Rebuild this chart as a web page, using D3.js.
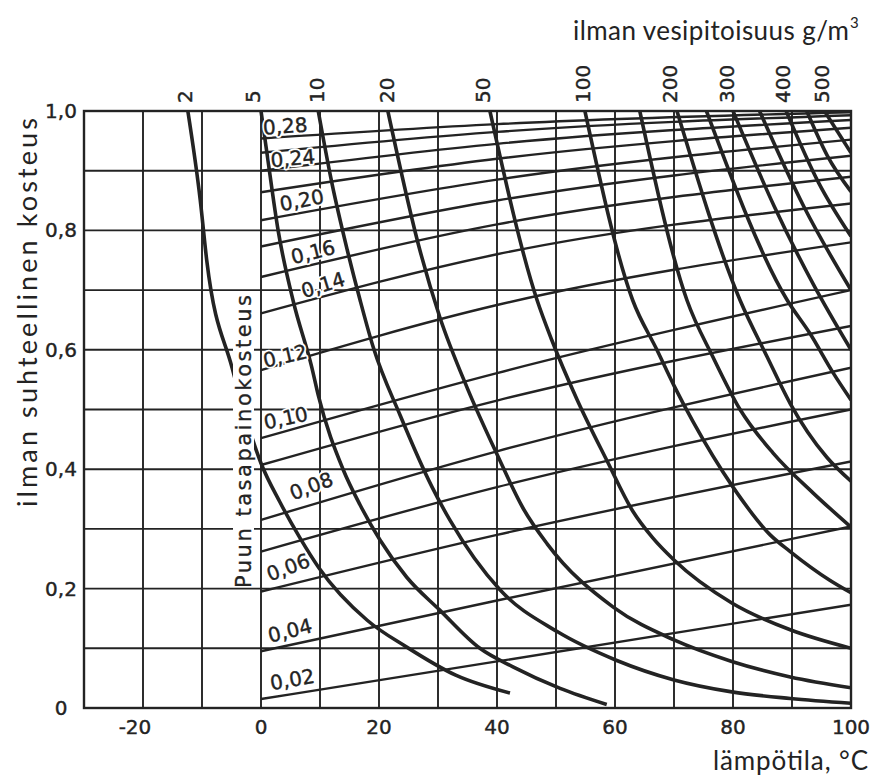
<!DOCTYPE html>
<html><head><meta charset="utf-8">
<script src="https://cdn.jsdelivr.net/npm/d3@7"></script>
<style>
html,body{margin:0;padding:0;background:#fff;}
svg{display:block;}
</style></head>
<body>
<svg id="chart" width="876" height="781"></svg>
<script>
// ---------------- data ----------------
// axis ticks
const xTickValues = [-20, 0, 20, 40, 60, 80, 100];
const xTickLabels = ["-20", "0", "20", "40", "60", "80", "100"];
const yTickValues = [0, 0.2, 0.4, 0.6, 0.8, 1.0];
const yTickLabels = ["0", "0,2", "0,4", "0,6", "0,8", "1,0"];
const xGridValues = [-20, -10, 0, 10, 20, 30, 40, 50, 60, 70, 80, 90];
const yGridValues = [0.1, 0.2, 0.3, 0.4, 0.5, 0.6, 0.7, 0.8, 0.9];

// wood equilibrium moisture content lines (puun tasapainokosteus):
// relative humidity read at 0 °C, 40 °C and 100 °C
const emcValues   = [0.02, 0.04, 0.06, 0.07, 0.08, 0.09, 0.10, 0.12, 0.14, 0.16, 0.18, 0.20, 0.22, 0.24, 0.26, 0.28];
const emcRhAt0    = [0.015, 0.095, 0.195, 0.262, 0.315, 0.407, 0.452, 0.566, 0.661, 0.722, 0.773, 0.817, 0.864, 0.900, 0.930, 0.954];
const emcRhAt40   = [0.078, 0.180, 0.290, 0.370, 0.430, 0.515, 0.561, 0.675, 0.760, 0.810, 0.850, 0.885, 0.920, 0.945, 0.965, 0.978];
const emcRhAt100  = [0.173, 0.304, 0.413, 0.500, 0.570, 0.640, 0.700, 0.780, 0.845, 0.890, 0.925, 0.952, 0.972, 0.985, 0.993, 0.998];
const emcLabels   = ["0,02", "0,04", "0,06", null, "0,08", null, "0,10", "0,12", "0,14", "0,16", null, "0,20", null, "0,24", null, "0,28"];

// water content of air curves (ilman vesipitoisuus g/m3): [temperature °C, relative humidity]
const ah2   = [[-12.4,1.0],[-10.3,0.851],[-9.2,0.75],[-4.9,0.57],[0,0.41],[3.2,0.345],[6.6,0.285],[9.8,0.235],[18,0.147],[24.7,0.102],[33,0.055],[42.2,0.025]];
const ah5   = [[0,1.0],[1.0,0.93],[2.9,0.8],[5.5,0.68],[8.6,0.571],[9.7,0.524],[13.9,0.4],[16.8,0.34],[20.2,0.281],[24.7,0.219],[30.3,0.164],[37.1,0.1],[42.7,0.069],[50.7,0.033],[58.6,0.006]];
const ah10  = [[9.7,1.0],[12,0.88],[14.6,0.768],[16.8,0.683],[19,0.605],[23.6,0.49],[29,0.37],[32,0.315],[40.5,0.198],[50.2,0.128],[60.2,0.08],[70,0.047],[79.8,0.027],[89.7,0.016],[100,0.008]];
const ah20  = [[21.5,1.0],[26.9,0.768],[30.3,0.655],[35,0.535],[40,0.425],[44.4,0.335],[48.5,0.275],[59.7,0.169],[70,0.114],[79.8,0.078],[89.7,0.052],[100,0.034]];
const ah50  = [[38.8,1.0],[46.8,0.683],[49.3,0.616],[53.6,0.516],[58.6,0.415],[63,0.33],[66.4,0.285],[70,0.248],[79.8,0.176],[89.7,0.131],[100,0.1]];
const ah100 = [[54.9,1.0],[63,0.683],[67.1,0.6],[70,0.54],[73.2,0.48],[80,0.37],[86.3,0.29],[89.7,0.262],[96.4,0.214],[100,0.193]];
const ah150 = [[64.2,1.0],[72.2,0.683],[76.6,0.588],[81.2,0.5],[86.8,0.427],[93.6,0.36],[100,0.303]];
const ah200 = [[70.5,1.0],[81.2,0.683],[85.8,0.588],[89.7,0.51],[95.9,0.42],[100,0.38]];
const ah250 = [[75.5,1.0],[89.2,0.683],[93,0.628],[97,0.561],[100,0.516]];
const ah300 = [[80,1.0],[87,0.84],[93.6,0.71],[100,0.6]];
const ah350 = [[84.5,1.0],[92,0.84],[100,0.7]];
const ah400 = [[89,1.0],[94.5,0.88],[100,0.79]];
const ah450 = [[92.5,1.0],[96,0.925],[100,0.865]];
const ah500 = [[95.5,1.0],[100,0.93]];
const ahCurves = [ah2, ah5, ah10, ah20, ah50, ah100, ah150, ah200, ah250, ah300, ah350, ah400, ah450, ah500];

// top scale labels (g/m3) and the temperature where each sits on the top edge
const topLabels    = ["2", "5", "10", "20", "50", "100", "200", "300", "400", "500"];
const topLabelTemp = [-12.9, -1.3, 9.5, 21.4, 37.6, 54.6, 69.3, 79, 88.5, 95.1];

// ---------------- layout ----------------
const INK = "#232323";
const svg = d3.select("#chart");
const x = d3.scaleLinear().domain([-30, 100]).range([84, 851]);
const y = d3.scaleLinear().domain([0, 1]).range([708, 111]);

svg.append("defs").append("clipPath").attr("id", "plotclip")
  .append("rect").attr("x", x(-30)).attr("y", y(1)).attr("width", x(100) - x(-30)).attr("height", y(0) - y(1));

const plot = svg.append("g").attr("clip-path", "url(#plotclip)");

// grid
plot.selectAll("line.vg").data(xGridValues).join("line")
  .attr("x1", d => x(d)).attr("x2", d => x(d)).attr("y1", y(0)).attr("y2", y(1))
  .attr("stroke", INK).attr("stroke-width", 1.9);
plot.selectAll("line.hg").data(yGridValues).join("line")
  .attr("y1", d => y(d)).attr("y2", d => y(d)).attr("x1", x(-30)).attr("x2", x(100))
  .attr("stroke", INK).attr("stroke-width", 1.9);

const line = d3.line().x(d => x(d[0])).y(d => y(d[1])).curve(d3.curveMonotoneX);

// EMC lines
const emcData = emcValues.map((v, i) => [[0, emcRhAt0[i]], [40, emcRhAt40[i]], [100, emcRhAt100[i]]]);
plot.selectAll("path.emc").data(emcData).join("path")
  .attr("d", line).attr("fill", "none").attr("stroke", INK).attr("stroke-width", 2.4);

// water content curves
plot.selectAll("path.ah").data(ahCurves).join("path")
  .attr("d", line).attr("fill", "none").attr("stroke", INK).attr("stroke-width", 3.6)
  .attr("stroke-linejoin", "round");

// frame
svg.append("rect").attr("x", x(-30)).attr("y", y(1)).attr("width", x(100) - x(-30)).attr("height", y(0) - y(1))
  .attr("fill", "none").attr("stroke", INK).attr("stroke-width", 2.4);

const numFont = "'DejaVu Sans', sans-serif";
const textFont = "Lato, 'Open Sans', sans-serif";
const NUM_SIZE = 20;

// EMC labels (placed along each line, above it)
const emcLabelPlace = {
  "0,28": [4.1, 0.975, -4], "0,24": [5.4, 0.921, -5], "0,20": [6.9, 0.851, -11],
  "0,16": [8.8, 0.764, -14], "0,14": [10.5, 0.709, -17], "0,12": [4.1, 0.59, -13],
  "0,10": [4.2, 0.486, -12], "0,08": [8.5, 0.372, -21], "0,06": [4.6, 0.236, -20],
  "0,04": [4.9, 0.13, -14], "0,02": [5.3, 0.048, -10]
};
const emcLab = emcLabels.filter(d => d);
const emcT = d => { const p = emcLabelPlace[d]; return `translate(${x(p[0])},${y(p[1])}) rotate(${p[2]})`; };
svg.selectAll("text.emch").data(emcLab).join("text")
  .attr("transform", emcT).attr("text-anchor", "middle").attr("dy", "0.36em")
  .attr("font-family", numFont).attr("font-size", NUM_SIZE).attr("fill", "#fff")
  .attr("stroke", "#fff").attr("stroke-width", 4).attr("stroke-linejoin", "round")
  .text(d => d);
svg.selectAll("text.emcl").data(emcLab).join("text")
  .attr("transform", emcT).attr("text-anchor", "middle").attr("dy", "0.36em")
  .attr("font-family", numFont).attr("font-size", NUM_SIZE).attr("fill", INK)
  .attr("stroke", INK).attr("stroke-width", 0.4)
  .text(d => d);

// vertical label inside plot
svg.append("rect").attr("x", 233).attr("y", 292).attr("width", 21).attr("height", 295).attr("fill", "#fff");
svg.append("text")
  .attr("transform", `translate(${251},${588}) rotate(-90)`)
  .attr("font-family", numFont).attr("font-size", 21).attr("fill", INK)
  .attr("stroke", INK).attr("stroke-width", 0.3)
  .attr("textLength", 293).attr("lengthAdjust", "spacing")
  .text("Puun tasapainokosteus");

// y tick labels
svg.selectAll("text.yt").data(yTickValues).join("text")
  .attr("x", 61).attr("y", d => y(d) + 7).attr("text-anchor", "middle")
  .attr("font-family", numFont).attr("font-size", NUM_SIZE).attr("fill", INK)
  .attr("stroke", INK).attr("stroke-width", 0.4)
  .text((d, i) => yTickLabels[i]);

// x tick labels
svg.selectAll("text.xt").data(xTickValues).join("text")
  .attr("x", d => x(d) - (d < 0 ? 8 : 0)).attr("y", 734).attr("text-anchor", "middle")
  .attr("font-family", numFont).attr("font-size", NUM_SIZE).attr("fill", INK)
  .attr("stroke", INK).attr("stroke-width", 0.4)
  .text((d, i) => xTickLabels[i]);

// top scale labels
svg.selectAll("text.tl").data(topLabels).join("text")
  .attr("transform", (d, i) => `translate(${x(topLabelTemp[i]) + 7},${103}) rotate(-90)`)
  .attr("font-family", numFont).attr("font-size", NUM_SIZE).attr("fill", INK)
  .attr("stroke", INK).attr("stroke-width", 0.4)
  .text(d => d);

// titles
svg.append("text").attr("x", 573).attr("y", 40)
  .attr("font-family", textFont).attr("font-size", 26).attr("fill", INK)
  .attr("textLength", 276).attr("lengthAdjust", "spacing")
  .text("ilman vesipitoisuus g/m");
svg.append("text").attr("x", 850).attr("y", 28)
  .attr("font-family", textFont).attr("font-size", 15).attr("fill", INK).text("3");

svg.append("text")
  .attr("transform", `translate(${37},${507}) rotate(-90)`)
  .attr("font-family", textFont).attr("font-size", 27).attr("fill", INK)
  .attr("textLength", 389).attr("lengthAdjust", "spacing")
  .text("ilman suhteellinen kosteus");

svg.append("text").attr("x", 713).attr("y", 770)
  .attr("font-family", textFont).attr("font-size", 26).attr("fill", INK)
  .attr("textLength", 155).attr("lengthAdjust", "spacing")
  .text("lämpötila, °C");
</script>
</body></html>
